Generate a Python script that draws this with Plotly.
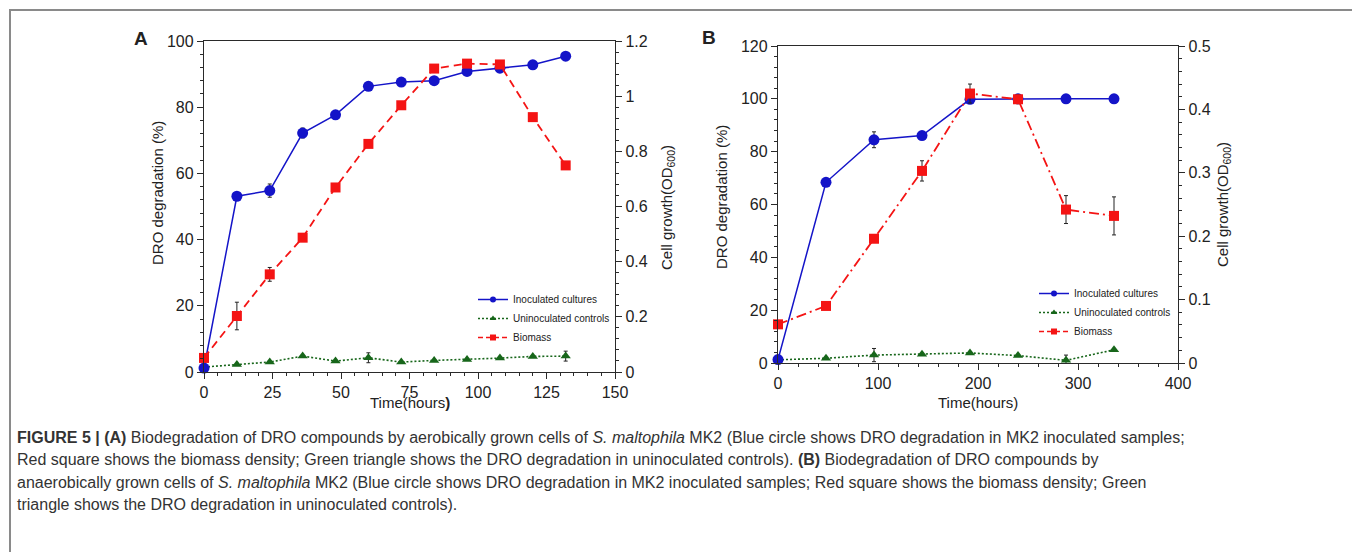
import plotly.graph_objects as go

# ---- panel A (aerobic) ----
time_a = [0, 12, 24, 36, 48, 60, 72, 84, 96, 108, 120, 132]
inoc_a = [1.2, 53.1, 54.8, 72.2, 77.7, 86.3, 87.6, 88.0, 90.8, 91.8, 92.8, 95.4]
inoc_a_err = [0, 0, 2.0, 1.5, 0, 0, 0, 0.5, 0, 0, 0, 0]
uninoc_a = [1.5, 2.3, 3.0, 4.8, 3.3, 4.3, 3.0, 3.5, 3.8, 4.2, 4.7, 4.8]
uninoc_a_err = [0, 0, 0, 0, 0, 1.5, 0, 0, 0, 0, 0, 1.5]
biomass_a = [0.051, 0.203, 0.354, 0.487, 0.669, 0.827, 0.967, 1.100, 1.118, 1.115, 0.924, 0.749]
biomass_a_err = [0, 0.05, 0.025, 0, 0, 0, 0, 0, 0.01, 0, 0, 0.01]

# ---- panel B (anaerobic) ----
time_b = [0, 48, 96, 144, 192, 240, 288, 336]
inoc_b = [1.3, 68.4, 84.5, 86.1, 99.8, 100, 100, 100]
inoc_b_err = [0, 0, 3.0, 0, 0, 1.5, 0, 0]
uninoc_b = [1.2, 1.8, 3.0, 3.3, 3.8, 2.8, 1.0, 5.0]
uninoc_b_err = [0, 0, 2.5, 0, 0, 0, 2.0, 0]
biomass_b = [0.061, 0.090, 0.196, 0.303, 0.425, 0.416, 0.242, 0.232]
biomass_b_err = [0, 0, 0, 0.016, 0.015, 0.007, 0.022, 0.030]

series_names = ["Inoculated cultures", "Uninoculated controls", "Biomass"]

caption_lines = [
    "<b>FIGURE 5 | (A)</b> Biodegradation of DRO compounds by aerobically grown cells of "
    "<i>S. maltophila</i> MK2 (Blue circle shows DRO degradation in MK2 inoculated samples;",
    "Red square shows the biomass density; Green triangle shows the DRO degradation in "
    "uninoculated controls). <b>(B)</b> Biodegradation of DRO compounds by",
    "anaerobically grown cells of <i>S. maltophila</i> MK2 (Blue circle shows DRO degradation "
    "in MK2 inoculated samples; Red square shows the biomass density; Green",
    "triangle shows the DRO degradation in uninoculated controls).",
]

W, H = 1360, 552
PAGE_OFF = 8  # the html body margin shifts the figure by 8px
BLUE = "#1414c8"
RED = "#f41414"
GREEN = "#17661a"
AXC = "#2a2a2a"
FONT = "Liberation Sans, Arial, sans-serif"


def px_x(v):
    return (v - PAGE_OFF) / W


def px_y(v):
    return 1 - (v - PAGE_OFF) / H


def err(vals):
    return dict(type="data", array=vals, visible=True, color="#222",
                thickness=1, width=2)


fig = go.Figure()

panels = [
    ("x", "y", "y2", "legend", time_a, inoc_a, inoc_a_err, uninoc_a, uninoc_a_err,
     biomass_a, biomass_a_err, "8px,5px"),
    ("x2", "y3", "y4", "legend2", time_b, inoc_b, inoc_b_err, uninoc_b, uninoc_b_err,
     biomass_b, biomass_b_err, "10px,4px,2px,4px"),
]

for xa, yl, yr, leg, t, inoc, inoc_e, unin, unin_e, bio, bio_e, bio_dash in panels:
    fig.add_trace(go.Scatter(
        x=t, y=unin, xaxis=xa, yaxis=yl, mode="lines+markers", cliponaxis=False,
        line=dict(color=GREEN, width=1.6, dash="2px,2px"),
        marker=dict(symbol="triangle-up", size=9, color=GREEN),
        error_y=err(unin_e), showlegend=False))
    fig.add_trace(go.Scatter(
        x=t, y=inoc, xaxis=xa, yaxis=yl, mode="lines+markers", cliponaxis=False,
        line=dict(color=BLUE, width=1.5),
        marker=dict(symbol="circle", size=11, color=BLUE),
        error_y=err(inoc_e), showlegend=False))
    fig.add_trace(go.Scatter(
        x=t, y=bio, xaxis=xa, yaxis=yr, mode="lines+markers", cliponaxis=False,
        line=dict(color=RED, width=1.8, dash=bio_dash),
        marker=dict(symbol="square", size=10, color=RED),
        error_y=err(bio_e), showlegend=False))

    # legend-only entries with the small symbols of the original legend
    styles = [
        (dict(color=BLUE, width=1.5), dict(symbol="circle", size=6, color=BLUE)),
        (dict(color=GREEN, width=1.5, dash="2px,2px"), dict(symbol="triangle-up", size=6, color=GREEN)),
        (dict(color=RED, width=1.5, dash="5px,3px"), dict(symbol="square", size=6, color=RED)),
    ]
    for name, (ln, mk) in zip(series_names, styles):
        fig.add_trace(go.Scatter(
            x=[None], y=[None], xaxis=xa, yaxis=yl, mode="lines+markers",
            name=name, line=ln, marker=mk, legend=leg))

tickfont = dict(family=FONT, size=16, color="#222")


def xaxis(domain, rng, dtick, minor, anchor):
    return dict(domain=domain, range=rng, dtick=dtick, anchor=anchor, automargin=False,
                showline=True, linecolor=AXC, linewidth=1.4, mirror=True,
                ticks="outside", ticklen=6, tickcolor=AXC, tickwidth=1.2,
                minor=dict(dtick=minor, ticks="outside", ticklen=3, tickcolor=AXC, showgrid=False),
                showgrid=False, zeroline=False, tickfont=tickfont, fixedrange=True)


def yaxis(domain, rng, dtick, minor, anchor, side="left", overlaying=None):
    d = dict(domain=domain, range=rng, dtick=dtick, anchor=anchor, side=side, automargin=False,
             showline=True, linecolor=AXC, linewidth=1.4,
             ticks="outside", ticklen=6, tickcolor=AXC, tickwidth=1.2,
             minor=dict(dtick=minor, ticks="outside", ticklen=3, tickcolor=AXC, showgrid=False),
             showgrid=False, zeroline=False, tickfont=tickfont, fixedrange=True)
    if overlaying:
        d["overlaying"] = overlaying
    return d


dom_ax = [px_x(204), px_x(615)]
dom_ay = [px_y(372), px_y(41)]
dom_bx = [px_x(778), px_x(1178)]
dom_by = [px_y(363), px_y(46)]

legend_style = dict(font=dict(family=FONT, size=10, color="#222"), bgcolor="rgba(0,0,0,0)",
                    itemwidth=30, tracegroupgap=0, xanchor="left", yanchor="top")

annotations = [
    dict(text="<b>A</b>", x=px_x(141), y=px_y(38), font=dict(size=19)),
    dict(text="<b>B</b>", x=px_x(709), y=px_y(37), font=dict(size=19)),
    dict(text="DRO degradation (%)", x=px_x(157), y=px_y(193), textangle=-90),
    dict(text="Cell growth(OD<sub>600</sub>)", x=px_x(667), y=px_y(208), textangle=-90),
    dict(text="Time(hours<b>)</b>", x=px_x(410), y=px_y(402)),
    dict(text="DRO degradation (%)", x=px_x(721), y=px_y(197), textangle=-90),
    dict(text="Cell growth(OD<sub>600</sub>)", x=px_x(1224), y=px_y(205), textangle=-90),
    dict(text="Time(hours)", x=px_x(978), y=px_y(402)),
]
for a in annotations:
    a.update(xref="paper", yref="paper", showarrow=False, xanchor="center", yanchor="middle")
    a["font"] = dict(family=FONT, size=a.get("font", {}).get("size", 15), color="#222")

for i, line in enumerate(caption_lines):
    annotations.append(dict(
        text=line, xref="paper", yref="paper", x=px_x(15), y=px_y(437 + i * 22.5),
        xanchor="left", yanchor="middle", showarrow=False, align="left",
        font=dict(family=FONT, size=16, color="#333")))

fig.update_layout(
    width=W, height=H,
    margin=dict(l=0, r=0, t=0, b=0, autoexpand=False),
    paper_bgcolor="white", plot_bgcolor="white",
    xaxis=xaxis(dom_ax, [0, 150], 25, 5, "y"),
    yaxis=yaxis(dom_ay, [0, 100], 20, 4, "x"),
    yaxis2=yaxis(dom_ay, [0, 1.2], 0.2, 0.04, "x", side="right", overlaying="y"),
    xaxis2=xaxis(dom_bx, [0, 400], 100, 20, "y3"),
    yaxis3=yaxis(dom_by, [0, 120], 20, 4, "x2"),
    yaxis4=yaxis(dom_by, [0, 0.5], 0.1, 0.02, "x2", side="right", overlaying="y3"),
    legend=dict(x=px_x(473), y=px_y(285), **legend_style),
    legend2=dict(x=px_x(1034), y=px_y(279), **legend_style),
    annotations=annotations,
    shapes=[dict(type="rect", xref="paper", yref="paper",
                 x0=px_x(10), x1=px_x(1357), y0=-0.2, y1=px_y(10),
                 line=dict(color="#8a8a8a", width=2), fillcolor="rgba(0,0,0,0)", layer="below")],
    showlegend=True,
)

fig.write_html("out.html")
